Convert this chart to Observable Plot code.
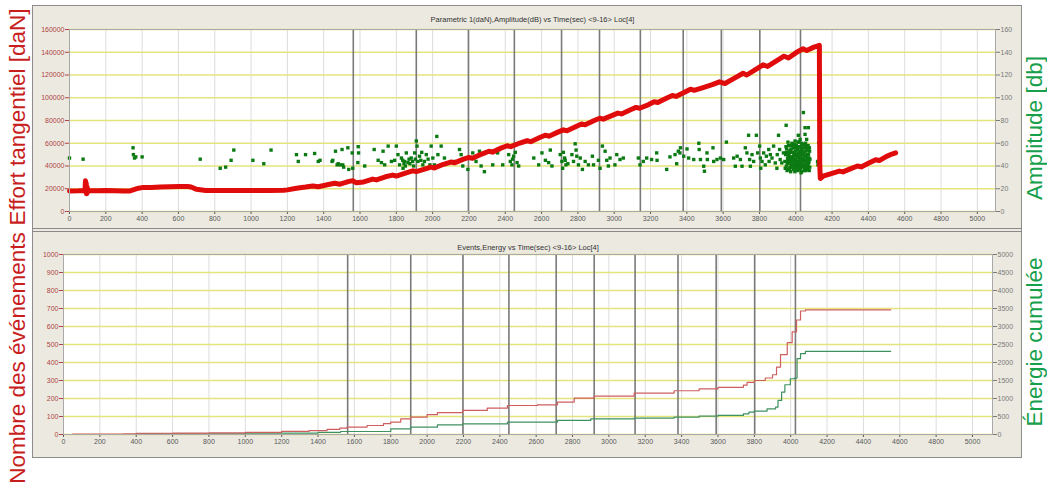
<!DOCTYPE html>
<html>
<head>
<meta charset="utf-8">
<script src="https://cdn.jsdelivr.net/npm/d3@7"></script>
<script src="https://cdn.jsdelivr.net/npm/@observablehq/plot@0.6"></script>
<style>
  body { margin: 0; background: #fff; font-family: "Liberation Sans", Arial, sans-serif; }
  #wrap { position: relative; width: 1047px; height: 486px; overflow: hidden; background: #fff; }
  .side { position: absolute; white-space: nowrap; font-size: 22.5px; line-height: 1; transform: translate(-50%, -50%) rotate(-90deg); }
</style>
</head>
<body>
<div id="wrap">
  <div style="position:absolute;left:32px;top:5px;width:988px;height:451px;border:1px solid #8c8c8c;background:#ebe9e0"></div>
  <div id="topPanel" style="position:absolute;left:32px;top:6px"></div>
  <div style="position:absolute;left:33px;top:228px;width:988px;height:2px;border-top:1px solid #8a8a8a;border-bottom:1px solid #8a8a8a"></div>
  <div id="botPanel" style="position:absolute;left:32px;top:232px"></div>
  <div class="side" style="left:18px;top:117px;color:#c81e1e">Effort tangentiel [daN]</div>
  <div class="side" style="left:18px;top:358px;color:#c81e1e">Nombre des événements</div>
  <div class="side" style="left:1035px;top:128px;color:#17a04c">Amplitude [db]</div>
  <div class="side" style="left:1035px;top:342px;color:#17a04c">Énergie cumulée</div>
</div>
<script>
// ---------- data ----------
const titleTop = "Parametric 1(daN),Amplitude(dB) vs Time(sec) <9-16> Loc[4]";
const titleBottom = "Events,Energy vs Time(sec) <9-16> Loc[4]";

const timeTicks = [0,200,400,600,800,1000,1200,1400,1600,1800,2000,2200,2400,2600,2800,3000,3200,3400,3600,3800,4000,4200,4400,4600,4800,5000];
const forceTicks = [0,20000,40000,60000,80000,100000,120000,140000,160000];
const amplitudeTicks = [0,20,40,60,80,100,120,140,160];
const eventTicks = [0,100,200,300,400,500,600,700,800,900,1000];
const energyTicks = [0,500,1000,1500,2000,2500,3000,3500,4000,4500,5000];

const eventMarkerTimes = [1563,1910,2197,2450,2710,2919,3144,3380,3590,3802,4026];

const forceTime = [0,50,85,88,90,92,94,96,98,100,105,150,200,250,300,330,350,380,400,450,500,550,600,650,670,700,750,800,900,1000,1100,1180,1200,1250,1300,1340,1370,1420,1460,1490,1540,1560,1580,1620,1670,1690,1740,1780,1800,1850,1890,1910,1960,1990,2010,2060,2100,2120,2170,2200,2220,2270,2310,2330,2380,2410,2430,2480,2520,2540,2590,2620,2640,2690,2720,2740,2790,2820,2840,2890,2920,2940,2990,3020,3040,3090,3120,3140,3190,3220,3240,3290,3320,3340,3390,3420,3440,3490,3540,3580,3610,3660,3710,3730,3780,3820,3845,3900,3935,3960,4010,4040,4060,4100,4130,4132,4135,4150,4200,4240,4260,4300,4340,4360,4400,4440,4460,4500,4530,4550];
const forceDaN = [18000,18200,18500,27000,17000,25000,15500,22000,16500,20000,18500,18300,18400,18300,18000,18000,19000,20500,21000,21200,21500,21800,22000,22000,21500,19500,18500,18500,18500,18500,18500,18600,19000,20500,21500,22500,21800,23500,24800,24000,26500,27000,25200,26000,28500,27800,30500,32000,31200,33800,35800,35000,37500,39000,38300,41500,43500,42800,46000,47500,46800,50500,53000,52200,56000,57800,57000,60200,62200,61400,65000,67000,66200,69800,71800,71000,74800,77000,76200,80000,82000,81200,84500,86500,85800,89500,91500,90800,94000,96500,95800,99800,102000,101200,105000,107500,106500,109000,111500,114000,112500,117000,121500,120000,125000,129000,127500,133000,136500,135000,140500,143000,141500,144500,146000,42000,29000,31000,33500,35500,34800,37500,40000,39200,42500,45500,44800,48500,50500,51500];

const amplitudeTime = [0,75,350,352,358,365,400,720,830,860,890,905,1010,1070,1110,1250,1260,1300,1350,1370,1380,1446,1450,1465,1474,1480,1490,1501,1505,1510,
1533,1538,1557,1560,1590,1592,1588,1626,1678,1700,1718,1727,1736,1755,1773,1791,1800,1809,1818,1828,1837,1846,1855,1864,1882,1901,1910,1914,1919,1928,1946,1965,1992,2001,2010,2023,2029,2047,2065,2093,2120,2148,2157,2166,2194,2221,2239,2258,2267,2285,2331,2358,2368,2386,
1835,1842,1850,1870,1875,1890,1895,1905,1935,1940,1955,1975,1985,
2419,2428,2437,2446,2465,2474,2557,2584,2602,2621,2639,2648,2657,2703,2712,2716,2727,2734,2767,2776,2785,2794,2803,2813,2825,2840,2858,2880,2886,2913,2922,2935,2950,2959,2968,2977,3004,3014,3032,3050,3133,3142,3160,3179,3206,3234,3236,3289,3307,3335,3344,3353,3362,
2440,2455,2720,2730,2745,2790,
3365,3383,3401,3410,3438,3466,3468,3475,3493,3497,3511,3513,3544,3548,3566,3585,3603,3618,3658,3667,3677,3695,3704,3722,3731,3740,3746,3750,3759,3768,3783,3790,3801,3805,3807,3814,3823,3832,3838,3851,3853,3860,3869,3878,3887,3896,3898,3905,3911,3914,3923,3932,3947,3942,
3996,4014,4042,4051,4069,4051,4060,4024,4126,4120,4122,
3940,3944,3948,3950,3952,3955,3958,3960,3962,3965,3967,3970,3972,3974,3977,3979,3981,3983,3986,3988,3990,3992,3995,3997,3999,4001,4003,4005,4008,4010,4012,4014,4016,4018,4020,4022,4024,4026,4028,4030,4032,4034,4036,4038,4040,4042,4044,4046,4048,4050,4052,4054,4056,4058,4060,4062,4064,4066,4068,4070,4072,4074,4076,4078,
3946,3957,3969,3976,3985,3994,4000,4007,4011,4019,4027,4033,4039,4045,4049,4057,4063,4069,4073,4077,3953,3963,3973,3982,3993,4004,4015,4025,4035,4047,4059,4067,
3948,3956,3961,3968,3975,3980,3987,3991,3998,4002,4009,4013,4017,4021,4029,4031,4037,4041,4043,4051,4053,4055,4061,4065,4071,4075,3959,3966,3978,3989,4006,4023,4037,4053,4068,3971,3984,3996,4012,4029];
const amplitudeDb = [47,46,56,50,47,48,48,46,38,39,45,54,45,42,54,50,44,50,51,44,45,44,45,53,41,42,41,54.5,41,39,
56,37,51.5,38,57,51.5,43,40,54.5,45,43,53,41,57.5,44,45,57.5,50,41,47,38,44,51.5,43,47,51.5,62,57.5,44,48.6,41,50,57.5,47,41,66,50,57.5,47,43,44,54.5,50,40,37,51.5,44,53,40,35,41,51.5,54.5,41,
45,42,40,46,42,44,40,46,45,52,44,46,41,
50,44,41,48.6,43,40,47,41,51.5,45,43,54,40,50,44,38,47,41,50,44,59.5,48.6,41,47,37,44,41,48.6,41,45,38,57.5,53,45,40,47,41,50,45.7,47,47,41,44,47,45.7,51.5,45,37,48,50,42,53,51.5,
46,52,52,45,42,54,
56,48.6,55,47,45.7,60,54.5,45.7,39.8,35.4,51.5,45.7,56,44,45.7,47,45.7,61,47,39.8,48.6,45.7,39.8,56,51.5,67,45.7,39.8,50,44,67,51.5,57.5,47,38,44,51.5,41,48.6,54.5,44,50,47,57.5,42.7,38,50,67,54.5,45.7,42.7,51.5,75.8,38,
62,67,87,73.7,73.7,67.8,63.4,63.4,60.4,44,41,
44,50,40,55,36,47,42,58,51,38,45,54,35,48,41,60,52,44,37,56,49,42,35,53,46,39,58,50,44,36,55,47,40,61,52,45,37,57,49,42,35,54,46,39,59,51,44,36,56,48,41,60,53,45,38,55,47,40,58,50,43,36,53,46,
57,61,39,58,48,59,43,54,48,41,53,60,44,52,38,49,42,54,47,39,43,48,52,40,45,37,51,42,50,45,57,37,
52,45,50,43,55,39,46,51,40,49,57,43,38,48,46,56,41,47,52,39,58,36,43,50,44,56,37,53,45,59,41,38,55,49,42,47,39,56,61,34];

const eventTime = [50,330,400,600,800,1000,1200,1350,1450,1520,1560,1670,1760,1800,1855,1910,2000,2057,2195,2331,2442,2607,2717,2809,2919,3139,3359,3496,3600,3740,3760,3800,3860,3900,3922,3944,3981,4008,4032,4054,4081,4550];
const eventCount = [2,4,7,8,9,12,17,22,28,35,41,50,60,69,87,96,110,121,134,147,161,165,180,202,213,230,243,254,262,274,290,300,314,332,374,444,510,570,636,686,692,693];

const energyTime = [50,400,1000,1400,1524,1800,1910,2057,2195,2442,2717,2900,3139,3359,3496,3600,3740,3770,3800,3870,3917,3930,3950,3968,3998,4020,4035,4054,4081,4550];
const energyValue = [0,20,40,60,83,158,204,269,297,343,390,436,455,482,510,529,575,620,650,714,760,946,1178,1382,1549,1568,2105,2245,2310,2310];

// ---------- tables ----------
const force = forceTime.map((t, i) => ({t, v: forceDaN[i]}));
const amplitude = amplitudeTime.map((t, i) => ({t, db: amplitudeDb[i]}));
const events = eventTime.map((t, i) => ({t, n: eventCount[i]}));
const energy = energyTime.map((t, i) => ({t, e: energyValue[i]}));

const font = "'Liberation Sans', Arial, sans-serif";

const topChart = Plot.plot({
  width: 990, height: 222,
  marginLeft: 37, marginRight: 27, marginTop: 23, marginBottom: 17,
  style: {background: "transparent", fontFamily: font, fontSize: "7px", overflow: "visible"},
  x: {domain: [0, 5100]},
  y: {domain: [0, 160000]},
  marks: [
    Plot.frame({fill: "white", stroke: null}),
    Plot.gridX({ticks: timeTicks, stroke: "#dcdcdc", strokeOpacity: 1}),
    Plot.gridY({ticks: forceTicks, stroke: "#e4e47e", strokeOpacity: 1, strokeWidth: 1.5}),
    Plot.ruleX(eventMarkerTimes, {stroke: "#7a7a7a", strokeWidth: 1.6}),
    Plot.dot(amplitude, {x: "t", y: d => d.db * 1000, symbol: "square", r: 1.9, fill: "#0b7a12", stroke: null}),
    Plot.line(force, {x: "t", y: "v", stroke: "#e00c0c", strokeWidth: 5, strokeLinejoin: "round"}),
    Plot.axisX({ticks: timeTicks, tickSize: 3, tickPadding: 2, tickFormat: d => String(d), color: "#5a5a5a", label: null}),
    Plot.axisY({ticks: forceTicks, tickSize: 4, tickPadding: 1, tickFormat: d => String(d), color: "#b04444", label: null}),
    Plot.axisY({anchor: "right", ticks: amplitudeTicks.map(a => a * 1000), tickSize: 4, tickPadding: 1, tickFormat: d => String(d / 1000), color: "#7a7a7a", label: null}),
    Plot.frame({stroke: "#a9a9a9"}),
    Plot.text([titleTop], {frameAnchor: "top", dy: -13, fontSize: 7.5, fill: "#333"})
  ]
});
document.getElementById("topPanel").append(topChart);

const botChart = Plot.plot({
  width: 990, height: 225,
  marginLeft: 31, marginRight: 30, marginTop: 22, marginBottom: 23,
  style: {background: "transparent", fontFamily: font, fontSize: "7px", overflow: "visible"},
  x: {domain: [0, 5110]},
  y: {domain: [0, 1000]},
  marks: [
    Plot.frame({fill: "white", stroke: null}),
    Plot.gridX({ticks: timeTicks, stroke: "#dcdcdc", strokeOpacity: 1}),
    Plot.gridY({ticks: eventTicks, stroke: "#e4e47e", strokeOpacity: 1, strokeWidth: 1.5}),
    Plot.ruleX(eventMarkerTimes, {stroke: "#7a7a7a", strokeWidth: 1.6}),
    Plot.line(energy, {x: "t", y: d => d.e / 5, curve: "step-after", stroke: "#3f9160", strokeWidth: 1.2}),
    Plot.line(events, {x: "t", y: "n", curve: "step-after", stroke: "#cf5f5f", strokeWidth: 1.2}),
    Plot.axisX({ticks: timeTicks, tickSize: 3, tickPadding: 2, tickFormat: d => String(d), color: "#5a5a5a", label: null}),
    Plot.axisY({ticks: eventTicks, tickSize: 4, tickPadding: 1, tickFormat: d => String(d), color: "#b04444", label: null}),
    Plot.axisY({anchor: "right", ticks: energyTicks.map(e => e / 5), tickSize: 4, tickPadding: 1, tickFormat: d => String(d * 5), color: "#7a7a7a", label: null}),
    Plot.frame({stroke: "#a9a9a9"}),
    Plot.text([titleBottom], {frameAnchor: "top", dy: -10, fontSize: 7.5, fill: "#333"})
  ]
});
document.getElementById("botPanel").append(botChart);
</script>
</body>
</html>
